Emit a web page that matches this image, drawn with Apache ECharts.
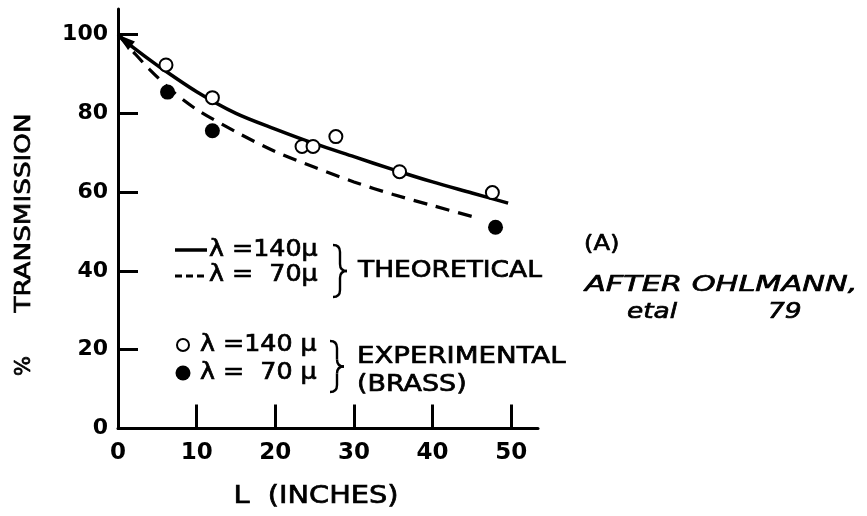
<!DOCTYPE html>
<html>
<head>
<meta charset="utf-8">
<script src="https://cdn.jsdelivr.net/npm/echarts@6/dist/echarts.min.js"></script>
<style>
  html, body { margin: 0; padding: 0; background: #ffffff; }
  #chart { width: 867px; height: 516px; }
</style>
</head>
<body>
<div id="chart"></div>
<script>
// Axis ticks
const xTicks = [0, 10, 20, 30, 40, 50];
const yTicks = [0, 20, 40, 60, 80, 100];

// Theoretical transmission, lambda = 140 micron (solid)
const theoryLen140 = [0, 2, 5, 10, 15, 20, 25, 30, 35, 40, 45, 49.6];
const theoryTrans140 = [100, 96.6, 92.2, 85.5, 80, 76, 72.3, 69, 65.7, 62.6, 59.8, 57.2];

// Theoretical transmission, lambda = 70 micron (dashed)
const theoryLen70 = [0, 2, 4, 7, 10, 15, 20, 25, 30, 35, 40, 45.8];
const theoryTrans70 = [100, 95.5, 91.2, 85.5, 81, 75.3, 70.3, 66.3, 62.6, 59.4, 56.6, 53.4];

// Measured transmission, brass guide
const expLen140 = [6.1, 12.0, 23.4, 24.8, 27.7, 35.8, 47.6];
const expTrans140 = [92.3, 84.0, 71.6, 71.6, 74.1, 65.2, 59.9];
const expLen70 = [6.3, 12.0, 48.0];
const expTrans70 = [85.4, 75.6, 51.1];

const FONT = 'DejaVu Sans';
const INK = 0.7; // extra stroke so the lettering reads as pen-drawn
const pairs = (xs, ys) => xs.map((x, i) => [x, ys[i]]);

// solid curve carries an arrowhead at its starting point
const solidData = pairs(theoryLen140, theoryTrans140).map((p, i) => i === 0
  ? { value: p, symbol: 'triangle', symbolSize: [11, 18], symbolRotate: 51, symbolOffset: [6.5, 5.5] }
  : p);

function txt(x, y, text, size, opts) {
  opts = opts || {};
  return {
    type: 'text', x: x, y: y,
    rotation: opts.rotation || 0,
    scaleX: opts.scaleX || 1,
    style: {
      text: text,
      font: (opts.italic ? 'italic ' : '') + size + 'px "' + FONT + '"',
      fill: '#000',
      stroke: '#000',
      lineWidth: INK,
      textAlign: opts.align || 'left',
      textVerticalAlign: 'middle'
    },
    z: 100
  };
}

// curly brace built from quadratic curves and straight strokes
function brace(x, yTop, yBot, w) {
  const mid = (yTop + yBot) / 2;
  const xm = x + w / 2, xt = x + w;
  const r = 7;
  const st = { stroke: '#000', lineWidth: 2.4, fill: null };
  return [
    { type: 'bezierCurve', shape: { x1: x, y1: yTop, cpx1: xm, cpy1: yTop, x2: xm, y2: yTop + r }, style: st, z: 100 },
    { type: 'line', shape: { x1: xm, y1: yTop + r, x2: xm, y2: mid - r }, style: st, z: 100 },
    { type: 'bezierCurve', shape: { x1: xm, y1: mid - r, cpx1: xm, cpy1: mid, x2: xt, y2: mid }, style: st, z: 100 },
    { type: 'bezierCurve', shape: { x1: xt, y1: mid, cpx1: xm, cpy1: mid, x2: xm, y2: mid + r }, style: st, z: 100 },
    { type: 'line', shape: { x1: xm, y1: mid + r, x2: xm, y2: yBot - r }, style: st, z: 100 },
    { type: 'bezierCurve', shape: { x1: xm, y1: yBot - r, cpx1: xm, cpy1: yBot, x2: x, y2: yBot }, style: st, z: 100 }
  ];
}

const graphics = [
  // axis titles
  txt(25, 213, 'TRANSMISSION', 21, { rotation: Math.PI / 2, align: 'center', scaleX: 1.25 }),
  txt(25, 366, '%', 21, { rotation: Math.PI / 2, align: 'center' }),
  txt(316, 497, 'L  (INCHES)', 24, { align: 'center', scaleX: 1.2 }),

  // theoretical key
  { type: 'line', shape: { x1: 175, y1: 250, x2: 207, y2: 250 }, style: { stroke: '#000', lineWidth: 3.5 }, z: 100 },
  { type: 'line', shape: { x1: 175, y1: 276, x2: 207, y2: 276 }, style: { stroke: '#000', lineWidth: 3, lineDash: [7, 4] }, z: 100 },
  txt(209, 250, 'λ =140μ', 23, { scaleX: 1.1 }),
  txt(209, 275, 'λ =  70μ', 23, { scaleX: 1.1 }),
  ...brace(333, 245, 297, 14),
  txt(358, 271, 'THEORETICAL', 23, { scaleX: 1.15 }),

  // experimental key
  { type: 'circle', shape: { cx: 183, cy: 345, r: 6 }, style: { fill: '#fff', stroke: '#000', lineWidth: 2 }, z: 100 },
  { type: 'circle', shape: { cx: 183, cy: 373, r: 7.5 }, style: { fill: '#000' }, z: 100 },
  txt(200, 345, 'λ =140 μ', 23, { scaleX: 1.1 }),
  txt(200, 373, 'λ =  70 μ', 23, { scaleX: 1.1 }),
  ...brace(330, 341, 392, 14),
  txt(357, 357, 'EXPERIMENTAL', 23, { scaleX: 1.2 }),
  txt(357, 385, '(BRASS)', 23, { scaleX: 1.17 }),

  // source note
  txt(584, 244, '(A)', 22, { scaleX: 1.1 }),
  txt(585, 285, 'AFTER OHLMANN,', 22, { italic: true, scaleX: 1.38 }),
  txt(627, 312, 'etal', 22, { italic: true, scaleX: 1.2 }),
  txt(768, 312, '79', 22, { italic: true, scaleX: 1.2 })
];

const tickStyle = { color: '#000', width: 3 };

const chart = echarts.init(document.getElementById('chart'), null, { renderer: 'canvas' });
chart.setOption({
  backgroundColor: '#ffffff',
  animation: false,
  grid: { left: 118, right: 329, top: 9, bottom: 87.5, containLabel: false },
  xAxis: {
    type: 'value', min: 0, max: 53.4,
    axisLine: { show: true, lineStyle: { color: '#000', width: 3 } },
    axisTick: { show: true, inside: true, length: 24, customValues: xTicks, lineStyle: tickStyle },
    axisLabel: {
      customValues: xTicks, color: '#000', fontFamily: FONT, fontWeight: 'bold', fontSize: 23, margin: 13
    },
    splitLine: { show: false }
  },
  yAxis: {
    type: 'value', min: 0, max: 106.5,
    axisLine: { show: true, lineStyle: { color: '#000', width: 3 } },
    axisTick: { show: true, inside: true, length: 20, customValues: yTicks, lineStyle: tickStyle },
    axisLabel: {
      customValues: yTicks, color: '#000', fontFamily: FONT, fontWeight: 'bold', fontSize: 22, margin: 10
    },
    splitLine: { show: false }
  },
  series: [
    {
      name: 'λ=140μ theoretical', type: 'line', smooth: 0.3, symbol: 'none', showSymbol: true,
      data: solidData,
      itemStyle: { color: '#000', opacity: 1 },
      lineStyle: { color: '#000', width: 3.5 },
      z: 2
    },
    {
      name: 'λ=70μ theoretical', type: 'line', smooth: 0.3, symbol: 'none',
      data: pairs(theoryLen70, theoryTrans70),
      lineStyle: { color: '#000', width: 3.2, type: [14, 9] },
      z: 2
    },
    {
      name: 'λ=140μ experimental', type: 'scatter', symbol: 'circle', symbolSize: 13,
      data: pairs(expLen140, expTrans140),
      itemStyle: { color: '#ffffff', borderColor: '#000', borderWidth: 2, opacity: 1 },
      z: 5
    },
    {
      name: 'λ=70μ experimental', type: 'scatter', symbol: 'circle', symbolSize: 15,
      data: pairs(expLen70, expTrans70),
      itemStyle: { color: '#000', opacity: 1 },
      z: 5
    }
  ],
  graphic: graphics
});
</script>
</body>
</html>
